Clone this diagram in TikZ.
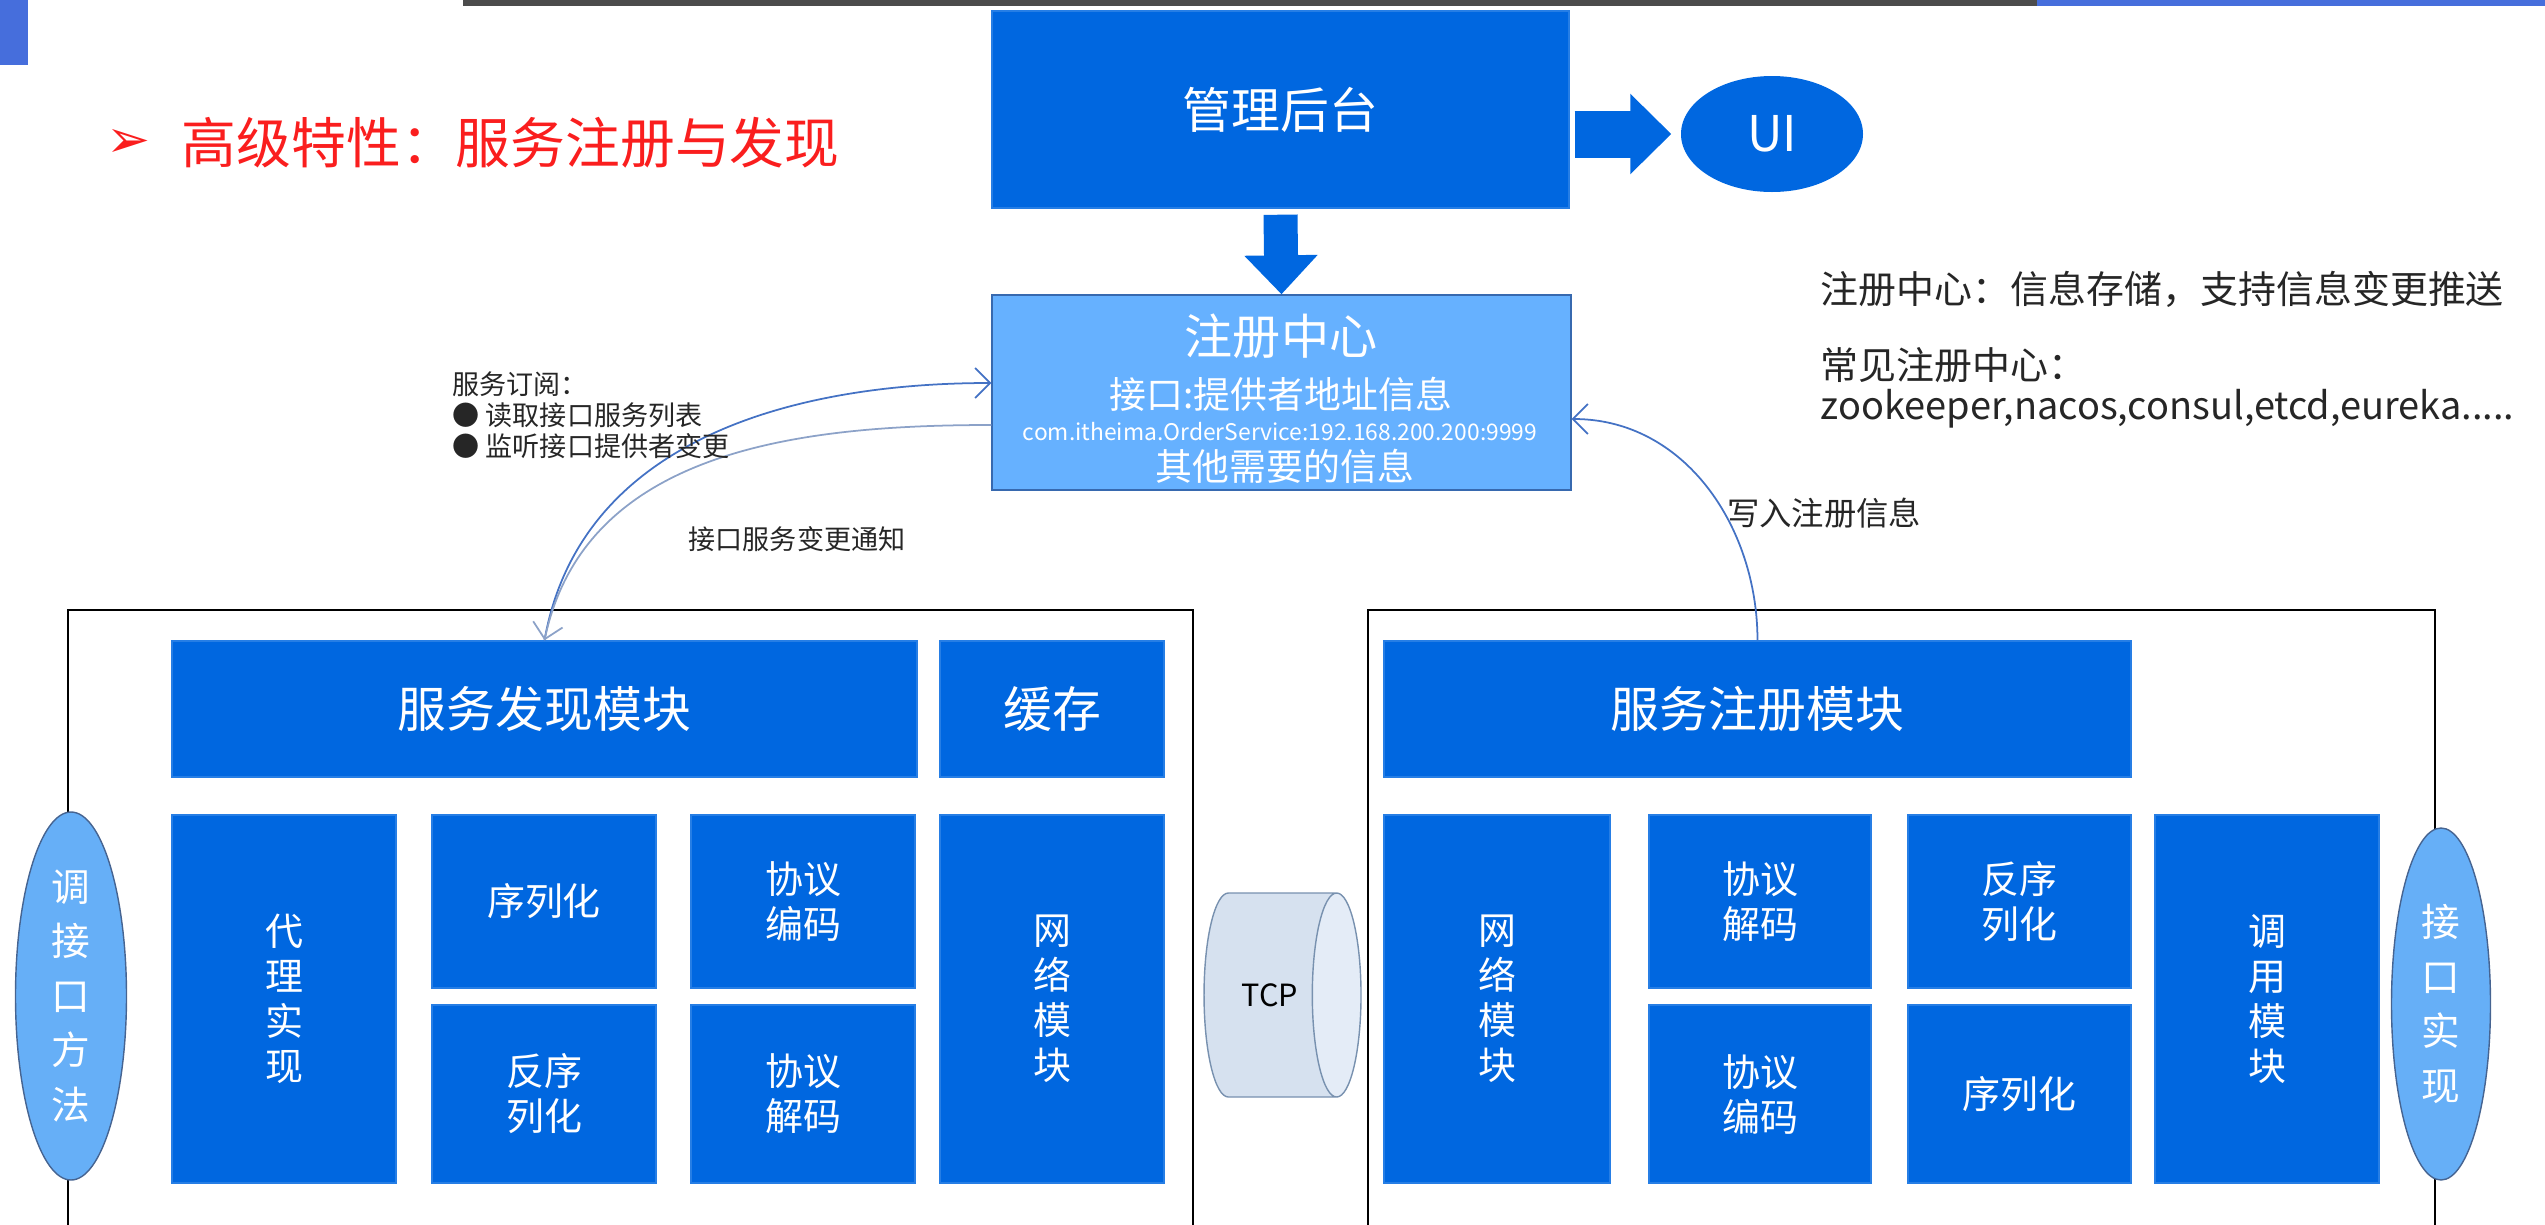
\documentclass[tikz,border=0pt]{standalone}
\usepackage{fontspec}
\setmainfont{Noto Sans CJK SC}
\newfontfamily\dingfont{DejaVu Sans}
\usetikzlibrary{shapes.geometric,arrows.meta,positioning}

\definecolor{modblue}{RGB}{0,103,224}
\definecolor{regblue}{RGB}{102,177,255}
\definecolor{regedge}{RGB}{55,105,175}
\definecolor{sideblue}{RGB}{102,175,247}
\definecolor{sideedge}{RGB}{70,100,145}
\definecolor{pipefill}{RGB}{214,225,239}
\definecolor{pipeend}{RGB}{228,236,247}
\definecolor{pipeedge}{RGB}{120,145,175}
\definecolor{subline}{RGB}{68,114,196}
\definecolor{notifline}{RGB}{140,162,200}
\definecolor{titlered}{RGB}{250,30,30}
\definecolor{chromeblue}{RGB}{70,110,220}

\begin{document}
\begin{tikzpicture}[x=0.1mm,y=-0.1mm,
    mod/.style={fill=modblue,draw=modblue!85!white,text=white,inner sep=0pt,
      align=center,font=\fontsize{10.8}{12.8}\selectfont},
    bigmod/.style={mod,font=\fontsize{13.9}{16}\selectfont},
    side/.style={ellipse,fill=sideblue,draw=sideedge,thin,text=white,inner sep=0pt,
      align=center,font=\fontsize{11}{15.5}\selectfont},
    regtxt/.style={text=white,inner sep=0pt},
    note/.style={text=black!85,inner sep=0pt,font=\fontsize{10.8}{12}\selectfont},
    small/.style={text=black!85,inner sep=0pt,font=\fontsize{7.7}{8.9}\selectfont},
    fatarrow/.style={draw=modblue,line width=4.7mm,-{Triangle[length=4.1mm,width=7.8mm]}},
    thinarrow/.style={line width=0.5pt,-{Straight Barb[length=1.5mm,width=3mm]}},
    frame/.style={draw=black,line width=0.8pt}]
  \useasboundingbox (0,0) rectangle (2545,1225);
  % slide chrome
  \fill[chromeblue] (0,0) rectangle (28,65);
  \fill[black!70] (463,0) rectangle (2037,6);
  \fill[chromeblue] (2037,0) rectangle (2545,6);
  \node[anchor=west,text=titlered,inner sep=0pt,font=\dingfont\fontsize{15}{15}\selectfont] (mark) at (106,143) {➢};
  \node[anchor=west,text=titlered,inner sep=0pt,font=\fontsize{15.6}{16}\selectfont] (title) at (181,143) {高级特性：服务注册与发现};

  % admin, ui and registry
  \node[bigmod,minimum width=57.7mm,minimum height=19.7mm] (admin) at (1280.5,109.5) {管理后台};
  \node[ellipse,fill=modblue,text=white,inner sep=0pt,minimum width=18.2mm,minimum height=11.6mm,
    font=\fontsize{14}{14}\selectfont] (ui) at (1772,134) {UI};
  \node[fill=regblue,draw=regedge,minimum width=57.9mm,minimum height=19.5mm] (registry) at (1281.5,392.5) {};
  \node[regtxt,font=\fontsize{13.7}{14}\selectfont] (regname) at (1281,336) {注册中心};
  \node[regtxt,font=\fontsize{10.5}{11}\selectfont] (regkey) at (1281,394) {接口:提供者地址信息};
  \node[regtxt,font=\fontsize{6.5}{7}\selectfont] (regval) at (1280,432) {com.itheima.OrderService:192.168.200.200:9999};
  \node[regtxt,font=\fontsize{10.5}{11}\selectfont] (regmore) at (1285,466) {其他需要的信息};
  \draw[fatarrow] ([xshift=0.5mm]admin.east |- ui.west) -- ([xshift=-0.9mm]ui.west);
  \draw[fatarrow,line width=3.4mm,-{Triangle[length=3.9mm,width=7.1mm]}] ([yshift=-0.6mm]admin.south) -- (registry.north);

  % notes
  \node[note,anchor=west] (info1) at (1820,289) {注册中心：信息存储，支持信息变更推送};
  \node[note,anchor=west] (info2) at (1820,365) {常见注册中心：};
  \node[note,anchor=west] (info3) at (1820,409) {zookeeper,nacos,consul,etcd,eureka.....};

  % consumer and provider frames
  \draw[frame] (68,610) rectangle (1193,1300);
  \draw[frame] (1368,610) rectangle (2435,1300);

  \node[bigmod,minimum width=74.5mm,minimum height=13.6mm] (dismod) at (544.5,709) {服务发现模块};
  \node[bigmod,minimum width=22.4mm,minimum height=13.6mm] (cache) at (1052,709) {缓存};
  \node[bigmod,minimum width=74.7mm,minimum height=13.6mm] (regmod) at (1757.5,709) {服务注册模块};
  \foreach \nm/\cx/\cy/\w/\h/\txt in {
      proxy/284/999/22.4/36.8/{代\\理\\实\\现},
      ser/544/901.5/22.4/17.3/{序列化},
      deser/544/1094/22.4/17.8/{反序\\列化},
      enc/803/901.5/22.4/17.3/{协议\\编码},
      dec/803/1094/22.4/17.8/{协议\\解码},
      net/1052/999/22.4/36.8/{网\\络\\模\\块},
      rnet/1497/999/22.6/36.8/{网\\络\\模\\块},
      rdec/1760/901.5/22.2/17.3/{协议\\解码},
      renc/1760/1094/22.2/17.8/{协议\\编码},
      rdeser/2019.5/901.5/22.3/17.3/{反序\\列化},
      rser/2019.5/1094/22.3/17.8/{序列化},
      call/2267/999/22.4/36.8/{调\\用\\模\\块}} {
    \node[mod,minimum width=\w mm,minimum height=\h mm] (\nm) at (\cx,\cy) {\txt};
  }

  \node[side,minimum width=11.1mm,minimum height=36.8mm] (caller) at (71,996) {调\\接\\口\\方\\法};
  \node[side,minimum width=9.9mm,minimum height=35.2mm] (impl) at (2441,1004) {接\\口\\实\\现};
  \node[cylinder,draw=pipeedge,cylinder uses custom fill,cylinder body fill=pipefill,
    cylinder end fill=pipeend,shape aspect=2.1,minimum height=15.7mm,minimum width=20.4mm,
    inner sep=0pt,font=\fontsize{8.7}{9}\selectfont] (tcp) at (1270,995) {TCP};

  % subscribe, notify, register
  \draw[thinarrow,subline] (dismod.north) to[out=80,in=180] ([yshift=0.95mm]registry.west);
  \draw[thinarrow,notifline] ([yshift=-3.25mm]registry.west) to[out=180,in=78] (dismod.north);
  \draw[thinarrow,subline] (regmod.north) to[out=90,in=0] ([yshift=-2.65mm]registry.east);
  \node[small,anchor=west,align=left] (subs) at (452,415) {服务订阅：\\●\ 读取接口服务列表\\●\ 监听接口提供者变更};
  \node[small] (notify) at (797,539) {接口服务变更通知};
  \node[small,font=\fontsize{9.2}{10}\selectfont] (write) at (1824,513) {写入注册信息};
\end{tikzpicture}
\end{document}
